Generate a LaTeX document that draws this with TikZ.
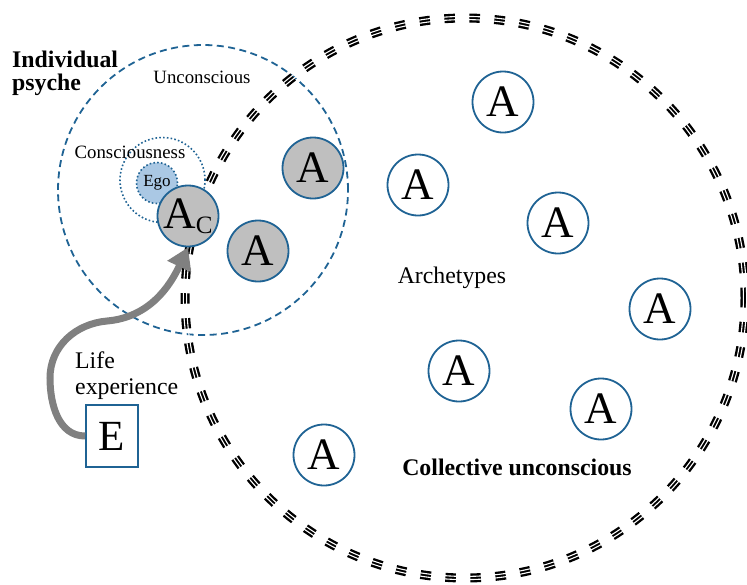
\documentclass[tikz,border=0pt]{standalone}
\usepackage{fontspec}
\setmainfont{Liberation Serif}
\usetikzlibrary{arrows.meta}
\definecolor{psyblue}{RGB}{31,99,148}
\definecolor{egoblue}{RGB}{170,200,228}
\definecolor{agrey}{RGB}{191,191,191}
\definecolor{arrowgrey}{RGB}{128,128,128}
\begin{document}
\begin{tikzpicture}[x=1pt,y=-1pt,
  archwhite/.style={circle, draw=psyblue, line width=1.8pt, minimum size=61pt, inner sep=0pt, fill=white, font=\fontsize{45}{45}\selectfont},
  archgrey/.style={archwhite, fill=agrey},
  lbl/.style={inner sep=0pt, font=\fontsize{18.8}{22}\selectfont},
  biglbl/.style={inner sep=0pt, font=\fontsize{23.8}{26}\selectfont},
  boldlbl/.style={inner sep=0pt, font=\fontsize{23.8}{23.5}\selectfont\bfseries},
  cutriple/.style={line width=9pt, dash pattern=on 10.5pt off 14.5pt},
  cugap/.style={white, line width=1.1pt},
]
\useasboundingbox (0,0) rectangle (747,584);

% individual psyche
\node[circle, draw=psyblue, line width=1.8pt, dash pattern=on 7pt off 4.5pt, minimum size=290pt, inner sep=0pt] (psyche) at (203,190) {};

% collective unconscious (triple dashed circle)
\coordinate (cucenter) at (465,298);
\draw[cutriple] (cucenter) circle[radius=280pt];
\draw[cugap] (cucenter) circle[radius=278.4pt];
\draw[cugap] (cucenter) circle[radius=281.6pt];

% consciousness and ego
\node[circle, draw=psyblue, line width=1.6pt, dash pattern=on 1.6pt off 2.2pt, minimum size=85pt, inner sep=0pt] (consc) at (162.5,180) {};
\node[circle, draw=psyblue, fill=egoblue, line width=1.6pt, dash pattern=on 1.6pt off 2.2pt, minimum size=41pt, inner sep=0pt, font=\fontsize{17}{17}\selectfont] (ego) at (157,183) {Ego};

% archetypes in the individual psyche
\node[archgrey] (Ac) at (188,216) {A\raisebox{-5pt}{\fontsize{25}{25}\selectfont C}};
\node[archgrey] (g1) at (313,168) {A};
\node[archgrey] (g2) at (258,251) {A};

% archetypes in the collective unconscious
\node[archwhite] (w1) at (503,102) {A};
\node[archwhite] (w2) at (418,185) {A};
\node[archwhite] (w3) at (558,223) {A};
\node[archwhite] (w4) at (660,309) {A};
\node[archwhite] (w5) at (459,371) {A};
\node[archwhite] (w6) at (601,409) {A};
\node[archwhite] (w7) at (324,455) {A};

% life experience
\node[draw=psyblue, line width=1.8pt, minimum width=52pt, minimum height=62pt, inner sep=0pt, fill=white, font=\fontsize{43}{43}\selectfont] (E) at (112,436) {E};
\coordinate (bend1) at (50,378);
\coordinate (bend2) at (107,321);
\draw[arrowgrey, line width=7pt, -{Triangle[width=25pt,length=21pt]}]
  (E.west) to[out=180,in=-90] (bend1) to[out=90,in=185] (bend2) to[out=5,in=-115] (Ac.south);

% labels
\node[boldlbl, align=left, anchor=north west] (indiv) at (12,50.4) {Individual\\psyche};
\node[lbl, anchor=base] (uncons) at (202,83) {Unconscious};
\node[lbl, anchor=base] (conslbl) at (130,158) {Consciousness};
\node[biglbl, anchor=base] (archlbl) at (452,283) {Archetypes};
\node[boldlbl, anchor=base] (colllbl) at (517,475) {Collective unconscious};
\node[biglbl, align=left, anchor=north west] (life) at (75,351.6) {Life\\experience};
\end{tikzpicture}
\end{document}
